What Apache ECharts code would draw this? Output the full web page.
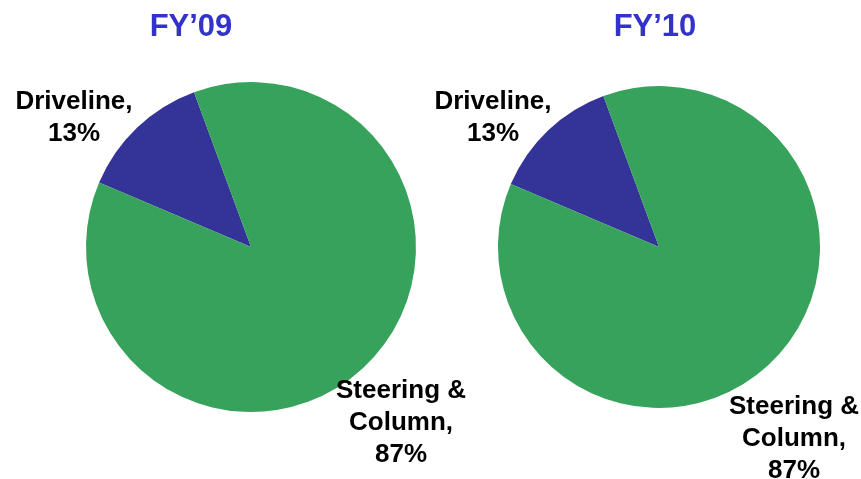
<!DOCTYPE html>
<html>
<head>
<meta charset="utf-8">
<script src="https://cdn.jsdelivr.net/npm/echarts@6/dist/echarts.min.js"></script>
<style>
html,body{margin:0;padding:0;background:#fff;}
#chart{width:861px;height:479px;}
</style>
</head>
<body>
<div id="chart"></div>
<script>
var categories = ['Driveline', 'Steering & Column'];
var years = ['FY\u201909', 'FY\u201910'];
var valuesFY09 = [13, 87];
var valuesFY10 = [13, 87];

var colors = ['#343397', '#37a25b'];
var FONT = 'Arial, "Liberation Sans", sans-serif';

// label anchor points (layout)
var labelPos = [
  [[74, 118], [401, 423]],
  [[493, 118], [794, 439]]
];

function makeData(vals) {
  return categories.map(function (c, i) { return { name: c, value: vals[i] }; });
}

function makeSeries(idx, vals, center, radius) {
  return {
    type: 'pie',
    center: center,
    radius: radius,
    startAngle: 157,
    clockwise: true,
    silent: true,
    animation: false,
    color: colors,
    data: makeData(vals),
    labelLine: { show: false },
    itemStyle: { borderWidth: 0 },
    label: {
      show: true,
      position: 'outside',
      overflow: 'none',
      color: '#000',
      fontFamily: FONT,
      fontWeight: 'bold',
      fontSize: 26,
      lineHeight: 32,
      align: 'center',
      formatter: function (p) {
        return p.name.replace('& ', '&\n') + ',\n' + p.value + '%';
      }
    },
    labelLayout: function (params) {
      var pos = labelPos[idx][params.dataIndex];
      return { x: pos[0], y: pos[1], align: 'center', verticalAlign: 'middle', width: 200 };
    }
  };
}

var chart = echarts.init(document.getElementById('chart'), null, { renderer: 'canvas' });
chart.setOption({
  backgroundColor: '#ffffff',
  animation: false,
  title: [
    { text: years[0], left: 191, top: 12, padding: 0, textAlign: 'center',
      textStyle: { color: '#3333cc', fontFamily: FONT, fontWeight: 'bold', fontSize: 31 } },
    { text: years[1], left: 655, top: 12, padding: 0, textAlign: 'center',
      textStyle: { color: '#3333cc', fontFamily: FONT, fontWeight: 'bold', fontSize: 31 } }
  ],
  series: [
    makeSeries(0, valuesFY09, [251, 247], 165),
    makeSeries(1, valuesFY10, [659, 247], 161)
  ]
});
</script>
</body>
</html>
